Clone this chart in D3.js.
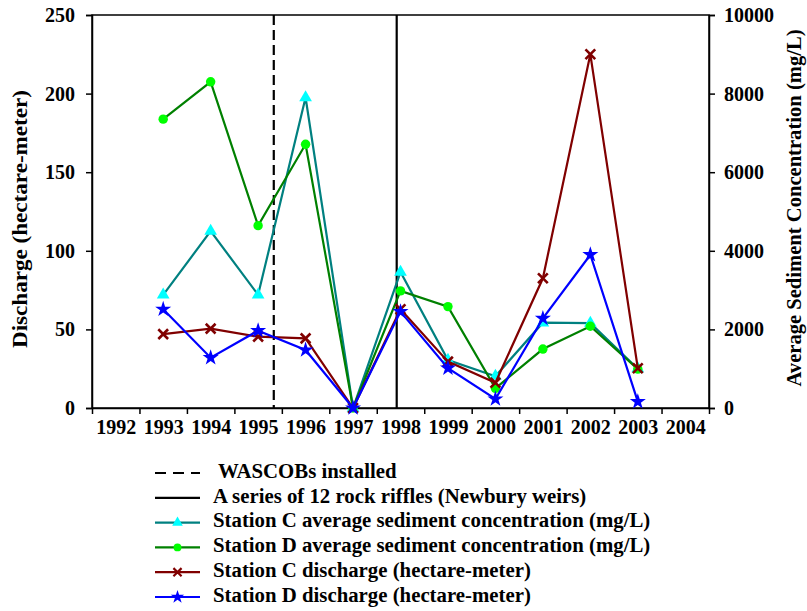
<!DOCTYPE html>
<html>
<head>
<meta charset="utf-8">
<script src="https://cdn.jsdelivr.net/npm/d3@7"></script>
<style>
  body { margin: 0; background: #fff; }
  svg text { font-family: "Liberation Serif"; font-weight: bold; fill: #000; }
</style>
</head>
<body>
<svg id="chart" width="807" height="611"></svg>
<script>
const years = [1993, 1994, 1995, 1996, 1997, 1998, 1999, 2000, 2001, 2002, 2003];
const yearLabels = [1992, 1993, 1994, 1995, 1996, 1997, 1998, 1999, 2000, 2001, 2002, 2003, 2004];

// sediment concentration (mg/L), right axis
const stationCSediment = [2880, 4500, 2880, 7900, 0, 3460, 1220, 810, 2170, 2160, 1000];
const stationDSediment = [7350, 8300, 4640, 6710, 0, 2980, 2580, 500, 1500, 2080, 990];
// discharge (hectare-meter), left axis
const stationCDischarge = [47, 50.5, 45.4, 44.3, 0, 62.8, 29.5, 16.1, 82.5, 225, 25.3];
const stationDDischarge = [62.8, 32, 49.2, 36.9, 0, 61.3, 25.3, 5.7, 57, 97.5, 4];

const eventLines = [
  {label: "WASCOBs installed", year: 1995.33, dash: "10,5"},
  {label: "A series of 12 rock riffles (Newbury weirs)", year: 1997.92, dash: null}
];

const width = 807, height = 611;
const margin = {top: 15, right: 98, bottom: 203, left: 92};
const x0 = margin.left, x1 = width - margin.right;
const y0 = height - margin.bottom, y1 = margin.top;

const x = d3.scaleLinear().domain([1991.5, 2004.5]).range([x0, x1]);
const yLeft = d3.scaleLinear().domain([0, 250]).range([y0, y1]);
const yRight = d3.scaleLinear().domain([0, 10000]).range([y0, y1]);

const svg = d3.select("#chart");

const series = [
  {label: "Station C average sediment concentration (mg/L)", values: stationCSediment, y: yRight,
   line: "#008080", fill: "#00ffff", symbol: d3.symbolTriangle, size: 70, stroke: false},
  {label: "Station D average sediment concentration (mg/L)", values: stationDSediment, y: yRight,
   line: "#008000", fill: "#00ff00", symbol: d3.symbolCircle, size: 70, stroke: false},
  {label: "Station C discharge (hectare-meter)", values: stationCDischarge, y: yLeft,
   line: "#800000", fill: "#800000", symbol: d3.symbolX, size: 64, stroke: true},
  {label: "Station D discharge (hectare-meter)", values: stationDDischarge, y: yLeft,
   line: "#0000ff", fill: "#0000ff", symbol: d3.symbolStar, size: 80, stroke: false}
];

// frame
svg.append("rect")
  .attr("x", x0).attr("y", y1)
  .attr("width", x1 - x0).attr("height", y0 - y1)
  .attr("fill", "none").attr("stroke", "#000").attr("stroke-width", 1.5);

// event lines
svg.selectAll(".event")
  .data(eventLines)
  .join("line")
    .attr("x1", d => x(d.year)).attr("x2", d => x(d.year))
    .attr("y1", y1).attr("y2", y0)
    .attr("stroke", "#000")
    .attr("stroke-width", 2.2)
    .attr("stroke-dasharray", d => d.dash);

// axes
const tickAxis = svg.append("g")
  .attr("transform", `translate(0,${y0})`)
  .call(d3.axisBottom(x)
    .tickValues(d3.range(1991.5, 2005, 1))
    .tickFormat("")
    .tickSize(6)
    .tickSizeOuter(0));

const labelAxis = svg.append("g")
  .attr("transform", `translate(0,${y0})`)
  .call(d3.axisBottom(x)
    .tickValues(yearLabels)
    .tickFormat(d3.format("d"))
    .tickSize(0)
    .tickPadding(12));
labelAxis.select(".domain").remove();

const leftAxis = svg.append("g")
  .attr("transform", `translate(${x0},0)`)
  .call(d3.axisLeft(yLeft).tickValues([0, 50, 100, 150, 200, 250]).tickSize(6).tickPadding(11));

const rightAxis = svg.append("g")
  .attr("transform", `translate(${x1},0)`)
  .call(d3.axisRight(yRight).tickValues([0, 2000, 4000, 6000, 8000, 10000])
    .tickFormat(d3.format("d")).tickSize(6).tickPadding(9));

[tickAxis, labelAxis, leftAxis, rightAxis].forEach(g => {
  g.attr("font-family", null).attr("font-size", null);
  g.selectAll("text")
    .attr("fill", "#000")
    .style("font-size", "20px");
  g.selectAll("line, path").attr("stroke", "#000").attr("stroke-width", 1.5);
});

// axis titles
svg.append("text")
  .attr("transform", "translate(22,219) rotate(-90)")
  .attr("text-anchor", "middle")
  .attr("dominant-baseline", "middle")
  .attr("textLength", 258)
  .attr("lengthAdjust", "spacingAndGlyphs")
  .style("font-size", "21px")
  .text("Discharge (hectare-meter)");

svg.append("text")
  .attr("transform", "translate(796,208) rotate(-90)")
  .attr("text-anchor", "middle")
  .attr("dominant-baseline", "middle")
  .attr("textLength", 357)
  .attr("lengthAdjust", "spacingAndGlyphs")
  .style("font-size", "21px")
  .text("Average Sediment Concentration (mg/L)");

// series
const plot = svg.append("g");
series.forEach(s => {
  const line = d3.line()
    .x((d, i) => x(years[i]))
    .y(d => s.y(d));

  plot.append("path")
    .datum(s.values)
    .attr("fill", "none")
    .attr("stroke", s.line)
    .attr("stroke-width", 2.2)
    .attr("d", line);

  const sym = d3.symbol().type(s.symbol).size(s.size);
  plot.selectAll(null)
    .data(s.values)
    .join("path")
      .attr("transform", (d, i) => `translate(${x(years[i])},${s.y(d)})`)
      .attr("d", sym)
      .attr("fill", s.stroke ? "none" : s.fill)
      .attr("stroke", s.stroke ? s.fill : "none")
      .attr("stroke-width", s.stroke ? 2.6 : 0);
});

// legend
const legendItems = [
  ...eventLines.map(d => ({label: d.label, line: "#000", dash: d.dash ? "11,7" : null})),
  ...series
];
const legend = svg.append("g").attr("transform", "translate(155,473)");
const rowH = 24.8;
legendItems.forEach((d, i) => {
  const g = legend.append("g").attr("transform", `translate(0,${i * rowH})`);
  g.append("line")
    .attr("x1", 0).attr("x2", 45)
    .attr("stroke", d.line)
    .attr("stroke-width", 2.2)
    .attr("stroke-dasharray", d.dash || null);
  if (d.symbol) {
    g.append("path")
      .attr("transform", "translate(22.5,0)")
      .attr("d", d3.symbol().type(d.symbol).size(d.size * 0.7))
      .attr("fill", d.stroke ? "none" : d.fill)
      .attr("stroke", d.stroke ? d.fill : "none")
      .attr("stroke-width", d.stroke ? 2.2 : 0);
  }
  g.append("text")
    .attr("x", i === 0 ? 63 : 58)
    .attr("dominant-baseline", "middle")
    .style("font-size", "20.8px")
    .text(d.label);
});
</script>
</body>
</html>
